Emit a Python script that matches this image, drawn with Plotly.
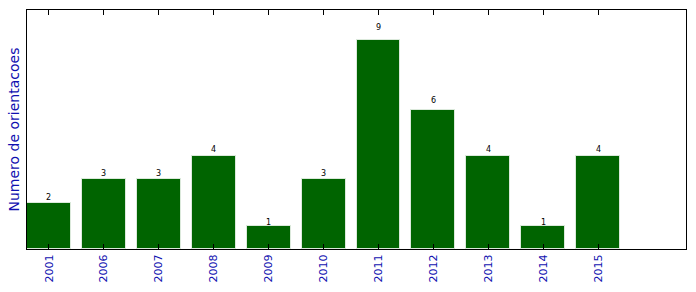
import plotly.graph_objects as go

years = ["2001", "2006", "2007", "2008", "2009", "2010", "2011", "2012", "2013", "2014", "2015"]
counts = [2, 3, 3, 4, 1, 3, 9, 6, 4, 1, 4]
pos = list(range(len(years)))

fig = go.Figure()
fig.add_trace(go.Bar(
    x=pos, y=counts, width=0.8,
    marker=dict(color="#006400", line=dict(color="rgba(230,240,230,0.9)", width=1)),
    customdata=years, hovertemplate="%{customdata}: %{y}<extra></extra>",
))

for p, c in zip(pos, counts):
    fig.add_annotation(x=p, y=c * 1.05, xref="x", yref="y", text=str(c), showarrow=False,
                       yanchor="bottom", xanchor="center", yshift=-4,
                       font=dict(size=8, color="black", family="DejaVu Sans"))

fig.add_annotation(xref="paper", yref="paper", x=0, y=0.5, xanchor="right", yanchor="middle",
                   xshift=-4, textangle=-90, text="Numero de orientacoes", showarrow=False,
                   font=dict(size=14, color="#1010b0", family="DejaVu Sans"))

fig.update_layout(
    width=696, height=292,
    margin=dict(l=27, r=10, t=10, b=43),
    paper_bgcolor="white", plot_bgcolor="white",
    showlegend=False, bargap=0,
    font=dict(family="DejaVu Sans"),
    xaxis=dict(
        range=[-0.4, 11.6], tickmode="array", tickvals=pos, ticktext=years,
        showline=True, linecolor="black", linewidth=1, mirror="ticks",
        ticks="inside", ticklen=5, tickwidth=1, tickcolor="black", tickangle=-90,
        layer="above traces",
        tickfont=dict(size=11, color="#1010b0"), showgrid=False, zeroline=False,
    ),
    yaxis=dict(
        range=[0, 10.3], showticklabels=False, ticks="",
        showline=True, linecolor="black", linewidth=1, mirror=True,
        layer="above traces",
        showgrid=False, zeroline=False,
    ),
)

fig.write_html("out.html")
